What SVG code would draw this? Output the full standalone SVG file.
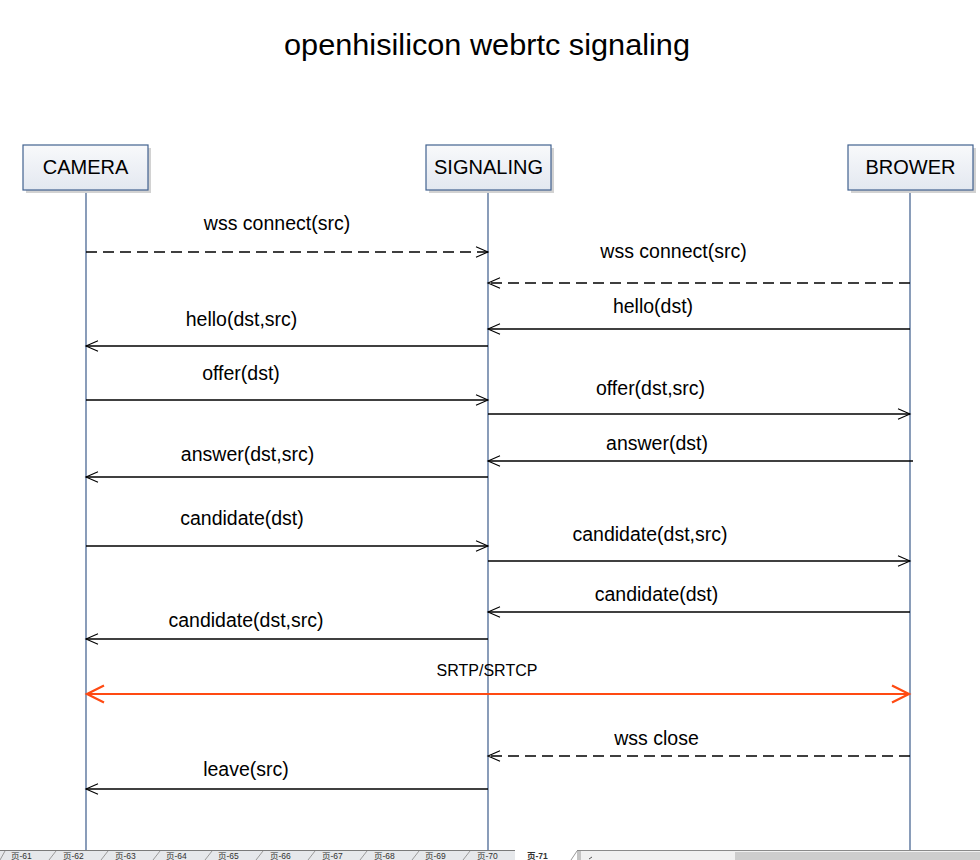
<svg xmlns="http://www.w3.org/2000/svg" width="980" height="860" viewBox="0 0 980 860">
<style>
.lbl{font-family:"Liberation Sans",Arial,sans-serif;font-size:19.5px;fill:#000;text-anchor:middle}
.small{font-family:"Liberation Sans",Arial,sans-serif;font-size:16px;fill:#000;text-anchor:middle}
.title{font-family:"Liberation Sans",Arial,sans-serif;font-size:30px;fill:#000;text-anchor:middle}
.box{fill:url(#boxg);stroke:#41628f;stroke-width:1.2}
.shadow{fill:#d2d2d2}
.btxt{font-family:"Liberation Sans",Arial,sans-serif;font-size:20px;fill:#000;text-anchor:middle}
.life{stroke:#3b5b8a;stroke-width:1.2;fill:none}
.msg{stroke:#000;stroke-width:1.3;fill:none;marker-end:url(#arr)}
.dash{stroke-dasharray:11 6}
.srtp{stroke:#ff4a12;stroke-width:2.2;fill:none;marker-end:url(#rarr);marker-start:url(#rarr)}
.tab{font-family:"Liberation Sans","Noto Sans CJK SC",sans-serif;font-size:8.5px;fill:#333}
.sep{stroke:#9a9a9a;stroke-width:1}
</style>
<defs>
<linearGradient id="boxg" x1="0" y1="0" x2="0" y2="1">
<stop offset="0" stop-color="#f8f9fb"/>
<stop offset="1" stop-color="#e3e8f0"/>
</linearGradient>
<marker id="arr" markerUnits="userSpaceOnUse" markerWidth="14" markerHeight="12" refX="12.5" refY="6" orient="auto" overflow="visible">
<path d="M0.5,0.8 L12.5,6 L0.5,11.2" fill="none" stroke="#000" stroke-width="1.1"/>
</marker>
<marker id="rarr" markerUnits="userSpaceOnUse" markerWidth="20" markerHeight="20" refX="18" refY="10" orient="auto-start-reverse" overflow="visible">
<path d="M1,1.5 L18,10 L1,18.5" fill="none" stroke="#ff4a12" stroke-width="2.2"/>
</marker>
</defs>
<rect width="980" height="860" fill="#fff"/>
<text class="title" x="487" y="55" textLength="406" lengthAdjust="spacingAndGlyphs">openhisilicon webrtc signaling</text>

<g id="lifelines">
<line class="life" x1="86" y1="190" x2="86" y2="850"/>
<line class="life" x1="488" y1="190" x2="488" y2="850"/>
<line class="life" x1="910" y1="190" x2="910" y2="850"/>
</g>

<g id="camera">
<rect class="shadow" x="26" y="148" width="125" height="45"/>
<rect class="box" x="23" y="145" width="125" height="45"/>
<text class="btxt" x="85.5" y="174">CAMERA</text>
</g>
<g id="signaling">
<rect class="shadow" x="429" y="148" width="125" height="45"/>
<rect class="box" x="426" y="145" width="125" height="45"/>
<text class="btxt" x="488.5" y="174">SIGNALING</text>
</g>
<g id="brower">
<rect class="shadow" x="851" y="148" width="125" height="45"/>
<rect class="box" x="848" y="145" width="125" height="45"/>
<text class="btxt" x="910.5" y="174">BROWER</text>
</g>

<g id="connectors">
<line class="msg dash" x1="86" y1="252" x2="488" y2="252"/>
<line class="msg dash" x1="910" y1="283" x2="488" y2="283"/>
<line class="msg" x1="910" y1="329" x2="488" y2="329"/>
<line class="msg" x1="488" y1="346" x2="86" y2="346"/>
<line class="msg" x1="86" y1="400" x2="488" y2="400"/>
<line class="msg" x1="488" y1="414" x2="910" y2="414"/>
<line class="msg" x1="913" y1="461" x2="488" y2="461"/>
<line class="msg" x1="488" y1="477" x2="86" y2="477"/>
<line class="msg" x1="86" y1="546" x2="488" y2="546"/>
<line class="msg" x1="488" y1="561" x2="910" y2="561"/>
<line class="msg" x1="910" y1="612" x2="488" y2="612"/>
<line class="msg" x1="488" y1="639" x2="86" y2="639"/>
<line class="srtp" x1="87" y1="694" x2="909" y2="694"/>
<line class="msg dash" x1="910" y1="756" x2="488" y2="756"/>
<line class="msg" x1="488" y1="789" x2="86" y2="789"/>
</g>

<g id="labels">
<text class="lbl" x="277" y="230">wss connect(src)</text>
<text class="lbl" x="673.5" y="258">wss connect(src)</text>
<text class="lbl" x="653" y="313">hello(dst)</text>
<text class="lbl" x="241.5" y="326">hello(dst,src)</text>
<text class="lbl" x="241" y="380">offer(dst)</text>
<text class="lbl" x="650.5" y="395">offer(dst,src)</text>
<text class="lbl" x="657" y="450">answer(dst)</text>
<text class="lbl" x="247.5" y="461">answer(dst,src)</text>
<text class="lbl" x="242" y="525">candidate(dst)</text>
<text class="lbl" x="650" y="541">candidate(dst,src)</text>
<text class="lbl" x="656.5" y="601">candidate(dst)</text>
<text class="lbl" x="246" y="627">candidate(dst,src)</text>
<text class="small" x="487" y="676">SRTP/SRTCP</text>
<text class="lbl" x="656.5" y="745">wss close</text>
<text class="lbl" x="246" y="776">leave(src)</text>
</g>

<g id="tabbar">
<rect x="0" y="850" width="515" height="10" fill="#e6e8eb"/>
<line x1="0" y1="850.5" x2="515" y2="850.5" stroke="#7a7a7a"/>
<polygon points="515,850 577,850 571,860 515,860" fill="#fff"/>
<rect x="577" y="850" width="403" height="10" fill="#f0f0f0"/>
<line x1="577" y1="850.5" x2="980" y2="850.5" stroke="#8a8a8a"/>
<rect x="577" y="851" width="4" height="9" fill="#c4c4c4"/>
<rect x="735" y="852" width="245" height="8" fill="#cdcdcd"/>
<path d="M592,857 L589,859" stroke="#555" stroke-width="1"/>
<line class="sep" x1="0" y1="860" x2="5" y2="851"/>
<line class="sep" x1="49" y1="860" x2="56" y2="851"/>
<line class="sep" x1="101" y1="860" x2="108" y2="851"/>
<line class="sep" x1="153" y1="860" x2="160" y2="851"/>
<line class="sep" x1="205" y1="860" x2="212" y2="851"/>
<line class="sep" x1="256" y1="860" x2="263" y2="851"/>
<line class="sep" x1="308" y1="860" x2="315" y2="851"/>
<line class="sep" x1="360" y1="860" x2="367" y2="851"/>
<line class="sep" x1="412" y1="860" x2="419" y2="851"/>
<line class="sep" x1="463" y1="860" x2="470" y2="851"/>
<line class="sep" x1="571" y1="860" x2="577" y2="851"/>
<text class="tab" x="11" y="858.5">页-61</text>
<text class="tab" x="63" y="858.5">页-62</text>
<text class="tab" x="115" y="858.5">页-63</text>
<text class="tab" x="166" y="858.5">页-64</text>
<text class="tab" x="218" y="858.5">页-65</text>
<text class="tab" x="270" y="858.5">页-66</text>
<text class="tab" x="322" y="858.5">页-67</text>
<text class="tab" x="374" y="858.5">页-68</text>
<text class="tab" x="425" y="858.5">页-69</text>
<text class="tab" x="477" y="858.5">页-70</text>
<text class="tab" x="527" y="858.5" font-weight="bold">页-71</text>
</g>
</svg>
